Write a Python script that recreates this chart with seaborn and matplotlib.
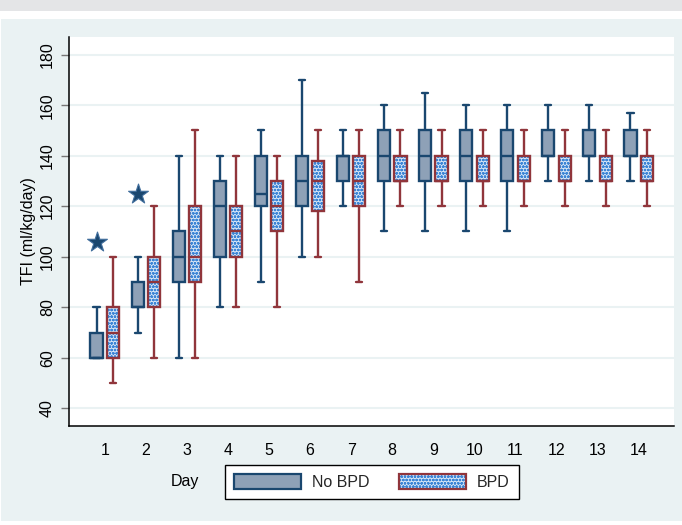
import numpy as np
import pandas as pd
import matplotlib.pyplot as plt
import seaborn as sns
from matplotlib.patches import Patch, PathPatch, Rectangle
from matplotlib.legend_handler import HandlerTuple

# --- data (five-number summaries per day) ---
days = [1, 2, 3, 4, 5, 6, 7, 8, 9, 10, 11, 12, 13, 14]
groups = ["No BPD", "BPD"]

nobpd_lo = [60, 70, 60, 80, 90, 100, 120, 110, 110, 110, 110, 130, 130, 130]
nobpd_q1 = [60, 80, 90, 100, 120, 120, 130, 130, 130, 130, 130, 140, 140, 140]
nobpd_med = [60, 80, 100, 120, 125, 130, 140, 140, 140, 140, 140, 140, 140, 140]
nobpd_q3 = [70, 90, 110, 130, 140, 140, 140, 150, 150, 150, 150, 150, 150, 150]
nobpd_hi = [80, 100, 140, 140, 150, 170, 150, 160, 165, 160, 160, 160, 160, 157]

bpd_lo = [50, 60, 60, 80, 80, 100, 90, 120, 120, 120, 120, 120, 120, 120]
bpd_q1 = [60, 80, 90, 100, 110, 118, 120, 130, 130, 130, 130, 130, 130, 130]
bpd_med = [70, 90, 100, 110, 120, 130, 130, 130, 130, 130, 130, 130, 130, 130]
bpd_q3 = [80, 100, 120, 120, 130, 138, 140, 140, 140, 140, 140, 140, 140, 140]
bpd_hi = [100, 120, 150, 140, 140, 150, 150, 150, 150, 150, 150, 150, 150, 150]

outlier_days = [1, 2]
outlier_vals = [106, 125]

yticks = [40, 60, 80, 100, 120, 140, 160, 180]

# colours (Stata s2color look)
navy = "#1a476f"
maroon = "#90353b"
nobpd_fill = "#8ea1b7"
hatch_blue = "#3d86d6"
hatch_face = "#d6e5f6"
panel_bg = "#eaf2f3"
pattern = "ooooo"


def long_frame(group, *cols):
    rows = []
    for i, d in enumerate(days):
        for col in cols:
            rows.append({"Day": d, "TFI": col[i], "Group": group})
    return pd.DataFrame(rows)


df_nb = long_frame("No BPD", nobpd_lo, nobpd_q1, nobpd_med, nobpd_q3, nobpd_hi)
df_b = long_frame("BPD", bpd_lo, bpd_q1, bpd_med, bpd_q3, bpd_hi)
df_out = pd.DataFrame({"Day": outlier_days, "TFI": outlier_vals, "Group": "No BPD"})

sns.set_theme(style="white")
plt.rcParams["font.family"] = ["Liberation Sans", "DejaVu Sans"]
plt.rcParams["hatch.linewidth"] = 0.8

fig = plt.figure(figsize=(6.82, 5.25), dpi=100, facecolor="white")
# screenshot framing: grey strip on top, light blue panel
fig.patches.append(Rectangle((0, 1 - 11 / 525), 1, 11 / 525, transform=fig.transFigure,
                             facecolor="#e4e5e7", edgecolor="none", zorder=-10))
fig.patches.append(Rectangle((1 / 682, 4 / 525), 1, (521 - 19) / 525, transform=fig.transFigure,
                             facecolor=panel_bg, edgecolor="none", zorder=-10))

ax = fig.add_axes([69 / 682, 1 - 426 / 525, (674 - 69) / 682, (426 - 37) / 525])
ax.set_facecolor("white")

box_kw = dict(x="Day", y="TFI", hue="Group", hue_order=groups, order=days,
              dodge=True, width=0.8, gap=0.26, whis=np.inf, fliersize=0,
              linewidth=1.7, saturation=1, legend=False, ax=ax)

sns.boxplot(data=df_nb, palette={"No BPD": nobpd_fill, "BPD": "white"},
            linecolor=navy, **box_kw)

n_before = len(ax.patches)
sns.boxplot(data=df_b, palette={"No BPD": nobpd_fill, "BPD": hatch_face},
            linecolor=maroon, **box_kw)

# patterned fill for the BPD boxes, red outline on top
for p in list(ax.patches[n_before:]):
    outline = PathPatch(p.get_path(), transform=p.get_transform(), facecolor="none",
                        edgecolor=maroon, linewidth=1.7, zorder=p.get_zorder() + 0.01)
    p.set_edgecolor(hatch_blue)
    p.set_hatch(pattern)
    p.set_linewidth(0)
    ax.add_patch(outline)

sns.stripplot(data=df_out, x="Day", y="TFI", hue="Group", hue_order=groups, order=days,
              dodge=True, jitter=False, marker="*", size=15,
              palette={"No BPD": navy, "BPD": maroon},
              linewidth=0.8, edgecolor="#3f6d9c", legend=False, ax=ax, zorder=5)

ax.set_xlim(-0.87, 13.86)
ax.set_ylim(33, 187)
ax.set_yticks(yticks)
ax.yaxis.grid(True, color=panel_bg, linewidth=1.5)
ax.xaxis.grid(False)
ax.set_axisbelow(True)

for side in ["top", "right"]:
    ax.spines[side].set_visible(False)
for side in ["left", "bottom"]:
    ax.spines[side].set_color("black")
    ax.spines[side].set_linewidth(1.1)

ax.tick_params(axis="y", left=True, length=6, width=1, color="#777777",
               labelsize=11.5, labelcolor="black", pad=4)
for lbl in ax.get_yticklabels():
    lbl.set_rotation(90)
    lbl.set_va("center")
ax.tick_params(axis="x", bottom=False, labelsize=11.5, labelcolor="black", pad=6)

ax.set_ylabel("TFI (ml/kg/day)", fontsize=11.5, color="black", labelpad=3)
ax.set_xlabel("Day", fontsize=11.5, color="black")
ax.xaxis.set_label_coords((185 - 69) / 605, (426 - 474) / 389)

h_nb = Patch(facecolor=nobpd_fill, edgecolor=navy, linewidth=1.6)
h_b = (Patch(facecolor=hatch_face, edgecolor=hatch_blue, hatch=pattern, linewidth=0),
       Patch(facecolor="none", edgecolor=maroon, linewidth=1.6))
leg = fig.legend([h_nb, h_b], groups, loc="center",
                 bbox_to_anchor=(372 / 682, 1 - 482 / 525), ncol=2,
                 handler_map={tuple: HandlerTuple(ndivide=1, pad=0)},
                 handlelength=4.2, handleheight=1.1, handletextpad=0.7,
                 columnspacing=1.8, borderpad=0.55, fontsize=11.5,
                 frameon=True, fancybox=False, edgecolor="black", framealpha=1)
leg.get_frame().set_linewidth(1.0)

fig.savefig("out.png", dpi=100, facecolor=fig.get_facecolor())
